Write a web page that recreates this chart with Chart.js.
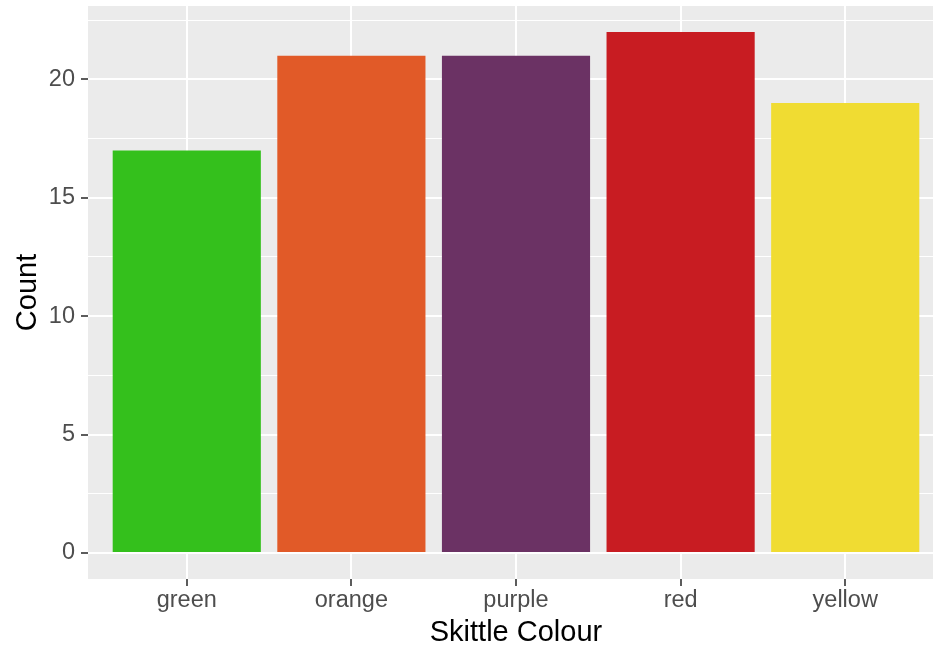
<!DOCTYPE html>
<html>
<head>
<meta charset="utf-8">
<script src="https://cdn.jsdelivr.net/npm/chart.js@4"></script>
<style>
  html, body { margin: 0; padding: 0; background: #fff; overflow: hidden; }
  /* panel runs past the right edge of the window, as in the original */
  #wrap { width: 944px; height: 645px; }
</style>
</head>
<body>
<div id="wrap"><canvas id="skittleChart"></canvas></div>
<script>
var colours = ['green', 'orange', 'purple', 'red', 'yellow'];
var counts = [17, 21, 21, 22, 19];
var barColours = ['#34C01C', '#E15A28', '#6B3264', '#C81C22', '#F0DC32'];
var yMajor = [0, 5, 10, 15, 20];
var yMinor = [2.5, 7.5, 12.5, 17.5, 22.5];

// panel background like ggplot theme_grey
var panelBg = {
    id: 'panelBg',
    beforeDraw: function (chart) {
        var a = chart.chartArea, ctx = chart.ctx;
        ctx.save();
        ctx.fillStyle = '#EBEBEB';
        ctx.fillRect(a.left, a.top, a.right - a.left, a.bottom - a.top);
        ctx.restore();
    }
};

var points = [];
colours.forEach(function (c, i) {
    points.push({ x: i + 1, y: counts[i] });
});

var ctx = document.getElementById('skittleChart').getContext('2d');
var myChart = new Chart(ctx, {
    type: 'bar',
    data: {
        datasets: [{
            data: points,
            backgroundColor: barColours,
            barPercentage: 0.9,
            categoryPercentage: 1.0,
            borderWidth: 0
        }]
    },
    options: {
        responsive: true,
        maintainAspectRatio: false,
        animation: false,
        layout: { padding: { top: 6, right: 0, left: 0, bottom: 0 } },
        plugins: {
            legend: { display: false },
            tooltip: { enabled: false }
        },
        scales: {
            x: {
                type: 'linear',
                min: 0.4,
                max: 5.6,
                offset: false,
                afterBuildTicks: function (axis) {
                    axis.ticks = colours.map(function (c, i) { return { value: i + 1 }; });
                },
                afterFit: function (axis) {
                    axis.height = 66;
                    axis.paddingLeft = 0;
                    axis.paddingRight = 0;
                },
                border: { display: false },
                grid: {
                    offset: false,
                    color: '#FFFFFF',
                    lineWidth: 2,
                    drawTicks: true,
                    tickLength: 7,
                    tickColor: '#333333',
                    tickWidth: 1.6
                },
                ticks: {
                    autoSkip: false,
                    maxRotation: 0,
                    padding: 0.6,
                    color: '#4D4D4D',
                    font: { family: 'Liberation Sans', size: 23.5 },
                    callback: function (v) { return colours[v - 1]; }
                },
                title: {
                    display: true,
                    text: 'Skittle Colour',
                    color: '#000000',
                    font: { family: 'Liberation Sans', size: 29, lineHeight: 0.8 },
                    padding: { top: 0, bottom: 0.4 }
                }
            },
            y: {
                min: -1.1,
                max: 23.1,
                afterBuildTicks: function (axis) {
                    var t = yMajor.concat(yMinor).sort(function (a, b) { return a - b; });
                    axis.ticks = t.map(function (v) { return { value: v }; });
                },
                afterFit: function (axis) {
                    axis.width = 88;
                    axis.paddingTop = 0;
                    axis.paddingBottom = 0;
                },
                border: { display: false },
                grid: {
                    color: '#FFFFFF',
                    lineWidth: function (c) { return yMajor.indexOf(c.tick.value) >= 0 ? 2 : 1; },
                    tickLength: 7,
                    tickColor: function (c) { return yMajor.indexOf(c.tick.value) >= 0 ? '#333333' : 'rgba(0,0,0,0)'; },
                    tickWidth: 1.6
                },
                ticks: {
                    autoSkip: false,
                    padding: 6,
                    color: '#4D4D4D',
                    font: { family: 'Liberation Sans', size: 23.5 },
                    callback: function (v) { return yMajor.indexOf(v) >= 0 ? String(v) : ''; }
                },
                title: {
                    display: true,
                    text: 'Count',
                    color: '#000000',
                    font: { family: 'Liberation Sans', size: 29, lineHeight: 0.8 },
                    padding: { top: 16.4, bottom: 0 }
                }
            }
        }
    },
    plugins: [panelBg]
});
</script>
</body>
</html>
